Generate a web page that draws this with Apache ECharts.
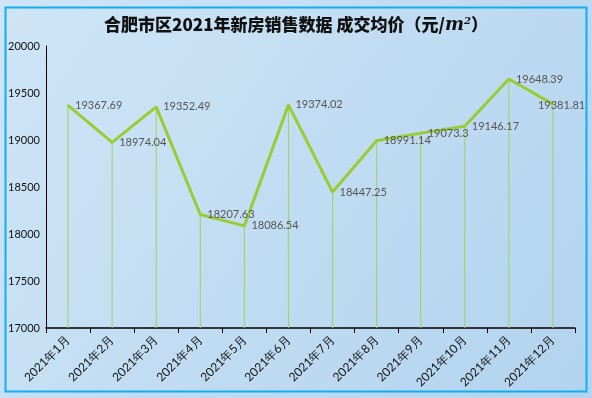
<!DOCTYPE html>
<html>
<head>
<meta charset="utf-8">
<script src="https://cdn.jsdelivr.net/npm/echarts@6/dist/echarts.min.js"></script>
<style>
	html, body {margin: 0; padding: 0;}
	#main {width: 592px; height: 398px;}
</style>
</head>
<body>
<div id="main"></div>
<script>
var months = ['2021年1月', '2021年2月', '2021年3月', '2021年4月', '2021年5月', '2021年6月',
	'2021年7月', '2021年8月', '2021年9月', '2021年10月', '2021年11月', '2021年12月'];
var avgPrice = [19367.69, 18974.04, 19352.49, 18207.63, 18086.54, 19374.02,
	18447.25, 18991.14, 19073.3, 19146.17, 19648.39, 19381.81];
var yTicks = [17000, 20000, 500];

// 最后一个标签放不下，往左挪一点
var lineData = avgPrice.map(function (v, i) {
	if (i == avgPrice.length - 1) {
		return {value: v, label: {offset: [-22, 1]}};
	}
	return v;
});

var myChart = echarts.init(document.getElementById('main'));
var option = {
	backgroundColor: {
		type: 'linear', x: 0, y: 0, x2: 1, y2: 1,
		colorStops: [{offset: 0, color: '#cfe5f6'}, {offset: 1, color: '#b2d3ee'}]
	},
	animation: false,
	title: {
		text: '合肥市区2021年新房销售数据 成交均价（元/{m|m}{s|2}）',
		left: 'center',
		top: 11,
		textStyle: {
			fontSize: 17,
			fontWeight: 900,
			color: '#111',
			fontFamily: 'Noto Sans CJK SC',
			rich: {
				m: {fontSize: 18, fontStyle: 'italic', fontFamily: 'DejaVu Serif', color: '#111'},
				s: {fontSize: 10, fontStyle: 'italic', fontFamily: 'DejaVu Serif', color: '#111', verticalAlign: 'top', padding: [0, 0, 8, 0]}
			}
		}
	},
	graphic: [{
		type: 'rect',
		shape: {x: 5.5, y: 7.5, width: 581, height: 384},
		style: {fill: 'none', stroke: '#12aef0', lineWidth: 2},
		silent: true
	}],
	grid: {left: 46, right: 17, top: 46, bottom: 70},
	xAxis: {
		type: 'category',
		data: months,
		boundaryGap: true,
		axisLine: {lineStyle: {color: '#000', width: 1.5}},
		axisTick: {show: true, lineStyle: {color: '#000'}},
		axisLabel: {rotate: 45, color: '#111', fontSize: 12, fontFamily: 'Lato', margin: 10}
	},
	yAxis: {
		type: 'value',
		min: yTicks[0],
		max: yTicks[1],
		interval: yTicks[2],
		splitLine: {show: false},
		axisLine: {show: true, lineStyle: {color: '#000', width: 1}},
		axisTick: {show: false},
		axisLabel: {
			color: '#111', fontSize: 11, fontFamily: 'Lato', align: 'left', margin: 38,
			formatter: function (v) { return String(v); }
		}
	},
	series: [
		{
			type: 'bar',
			data: avgPrice,
			barWidth: 1,
			itemStyle: {color: '#a2d158'},
			silent: true
		},
		{
			type: 'line',
			data: lineData,
			symbol: 'circle',
			symbolSize: 2,
			itemStyle: {color: '#99cc33'},
			lineStyle: {color: '#99cc33', width: 3},
			label: {
				show: true,
				position: 'right',
				distance: 6,
				color: '#555',
				fontSize: 11,
				fontFamily: 'Lato'
			}
		}
	]
};
myChart.setOption(option);
</script>
</body>
</html>
